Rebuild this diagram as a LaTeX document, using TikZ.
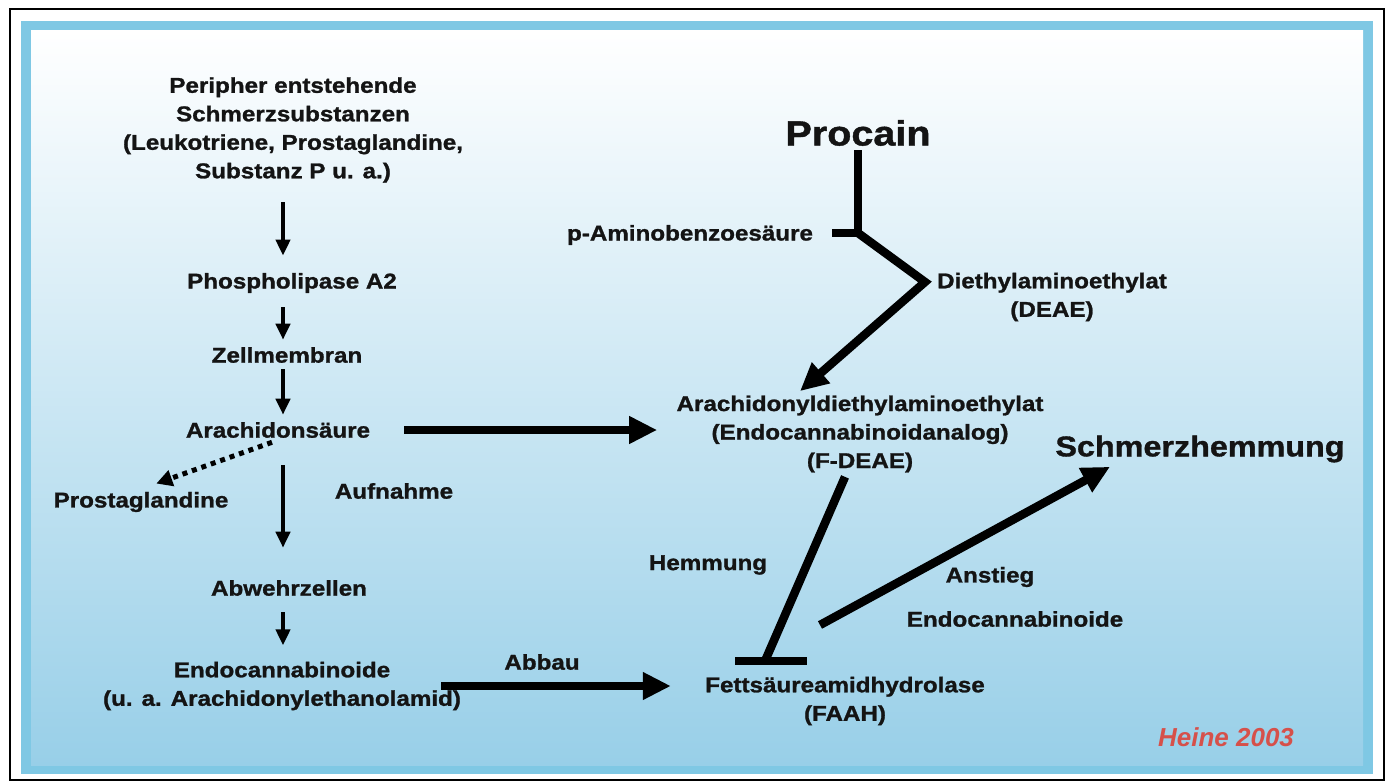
\documentclass[tikz,border=0pt]{standalone}
\usepackage{fontspec}
\setmainfont{Liberation Sans}[FakeStretch=1.13, FakeBold=1.2]
\newfontfamily\signfont{Liberation Sans}
\usetikzlibrary{arrows.meta}

\definecolor{frameblue}{HTML}{7FC8E4}
\definecolor{bgblue}{HTML}{98CFE8}
\definecolor{signred}{HTML}{D6504A}

\tikzset{
  lbl/.style={font=\bfseries\fontsize{10.7}{14.25}\selectfont, align=center, inner sep=2pt, text=black!92},
  thinarr/.style={line width=2pt, -{Triangle[length=8pt,width=7pt]}},
  thickline/.style={line width=4.25pt, line join=miter},
  thickarr/.style={thickline, -{Triangle[length=14pt,width=13pt]}},
}

\begin{document}
\begin{tikzpicture}[x=0.5pt, y=-0.5pt]
\useasboundingbox (0,0) rectangle (1390,781);
\fill[white] (0,0) rectangle (1390,781);
\draw[line width=0.8pt] (10,9) rectangle (1384,780);
\fill[frameblue] (21,21) rectangle (1373,774);
\shade[top color=white, bottom color=bgblue] (31,31) rectangle (1363,765);

% left column
\node[lbl] (periph) at (293,130) {Peripher entstehende\\Schmerzsubstanzen\\(Leukotriene, Prostaglandine,\\Substanz P u. a.)};
\node[lbl] (phos) at (292,283) {Phospholipase A2};
\node[lbl] (zell) at (287,355) {Zellmembran};
\node[lbl] (arach) at (278,430) {Arachidonsäure};
\node[lbl] (prosta) at (141,502) {Prostaglandine};
\node[lbl] (aufn) at (394,491) {Aufnahme};
\node[lbl] (abwehr) at (289,588) {Abwehrzellen};
\node[lbl] (endo) at (282,686) {Endocannabinoide\\(u. a. Arachidonylethanolamid)};
\node[lbl] (abbau) at (542,662) {Abbau};

% right side
\node[lbl, font=\bfseries\fontsize{17.5}{20}\selectfont] (procain) at (858,133) {Procain};
\node[lbl] (pamino) at (690,235) {p-Aminobenzoesäure};
\node[lbl] (diethyl) at (1052,297) {Diethylaminoethylat\\(DEAE)};
\node[lbl] (fdeae) at (860,434) {Arachidonyldiethylaminoethylat\\(Endocannabinoidanalog)\\(F-DEAE)};
\node[lbl, font=\bfseries\fontsize{14.3}{17}\selectfont] (schmerz) at (1200,449) {Schmerzhemmung};
\node[lbl] (hemm) at (708,565) {Hemmung};
\node[lbl] (anstieg) at (990,577) {Anstieg};
\node[lbl] (endo2) at (1015,619) {Endocannabinoide};
\node[lbl] (faah) at (845,701) {Fettsäureamidhydrolase\\(FAAH)};
\node[font=\signfont\bfseries\itshape\fontsize{13}{15}\selectfont, text=signred] (sign) at (1226,737) {Heine 2003};

% cascade arrows
\coordinate (col) at (283,0);
\draw[thinarr, shorten <=7.5pt, shorten >=6.5pt] (col |- periph.south) -- (col |- phos.north);
\draw[thinarr, shorten <=5pt, shorten >=1.5pt] (col |- phos.south) -- (col |- zell.north);
\draw[thinarr, shorten <=1pt, shorten >=1.5pt] (col |- zell.south) -- (col |- arach.north);
\draw[thinarr, shorten <=11.5pt, shorten >=14pt] (col |- arach.south) -- (col |- abwehr.north);
\draw[thinarr, shorten <=6pt, shorten >=6pt] (col |- abwehr.south) -- (col |- endo.north);
\draw[line width=2.5pt, dash pattern=on 2.5pt off 2.5pt, -{Triangle[length=8pt,width=8pt]}, shorten >=6pt]
  ([xshift=-3pt]arach.south) -- ([xshift=2pt]prosta.north);

\draw[thickarr, shorten <=15pt, shorten >=7.5pt] (arach.east) -- (arach.east -| fdeae.west);
\draw[thickarr, shorten <=-12pt, shorten >=15pt] (endo.east) -- (endo.east -| faah.west);

% procain split
\coordinate (split) at (858,233);
\coordinate (bend) at (925,282);
\draw[thickline] (procain.south) -- (split);
\draw[thickline] ([xshift=7.5pt]split -| pamino.east) -- (split);
\draw[thickarr] (split) -- (bend) -- ([xshift=-30pt]fdeae.north);

% hemmung
\coordinate (hbar) at (771,661);
\draw[thickline] ([xshift=-7.5pt]fdeae.south) -- ([xshift=-3pt]hbar);
\draw[thickline] ([xshift=-18pt]hbar) -- ([xshift=18pt]hbar);

% anstieg
\coordinate (rise) at (820,625);
\draw[thickarr] (rise) -- ([xshift=-45pt]schmerz.south);
\end{tikzpicture}
\end{document}
